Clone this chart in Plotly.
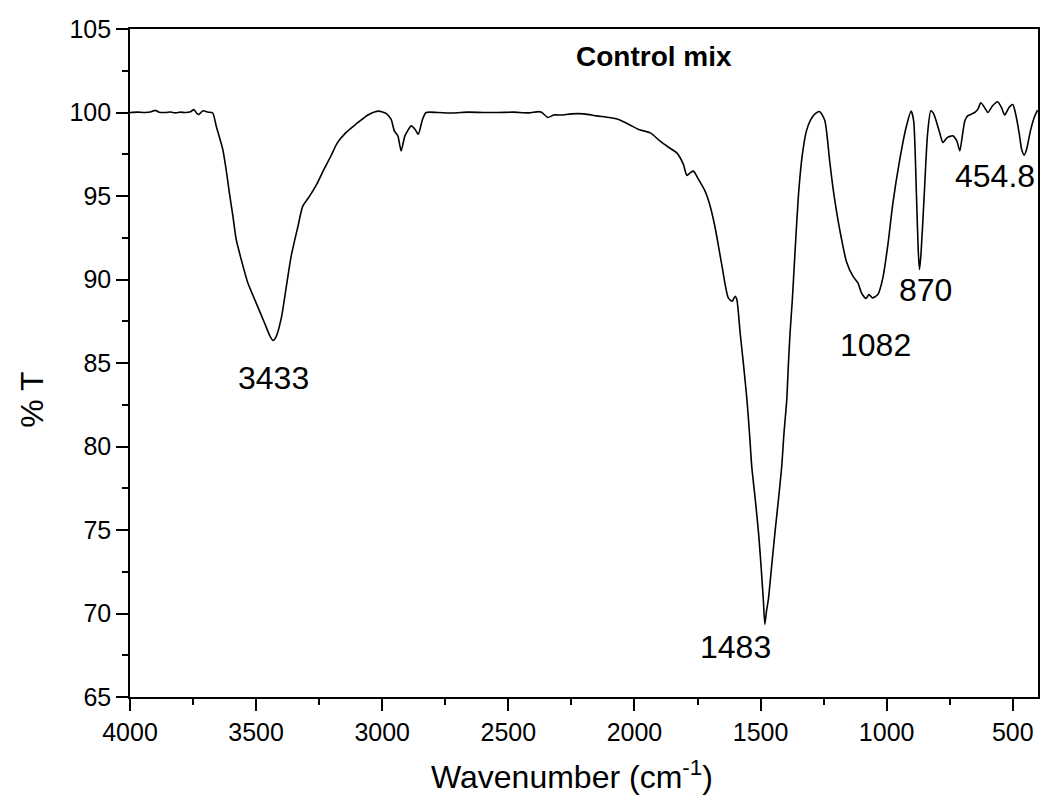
import plotly.graph_objects as go

# FTIR transmittance spectrum of the control mix
wavenumber = [
    4000, 3970, 3940, 3915, 3900, 3885, 3860, 3840, 3820, 3800, 3780, 3760,
    3747, 3735, 3727, 3711, 3690, 3672, 3658, 3632, 3619, 3606, 3592, 3579,
    3559, 3533, 3500, 3467, 3445, 3433, 3420, 3400, 3381, 3361, 3334, 3315,
    3288, 3260, 3231, 3204, 3178, 3145, 3106, 3053, 3014, 2985, 2965, 2952,
    2938, 2925, 2910, 2885, 2870, 2857, 2840, 2826, 2780, 2720, 2660, 2600,
    2540, 2480, 2420, 2380, 2367, 2343, 2320, 2290, 2250, 2200, 2150, 2100,
    2063, 2023, 1983, 1937, 1898, 1865, 1832, 1806, 1792, 1778, 1766, 1746,
    1720, 1700, 1680, 1654, 1628, 1612, 1601, 1594, 1581, 1567, 1554, 1544,
    1535, 1521, 1508, 1498, 1489, 1483, 1476, 1469, 1456, 1443, 1429, 1416,
    1407, 1396, 1390, 1383, 1374, 1362, 1350, 1335, 1318, 1300, 1282, 1265,
    1245, 1226, 1213, 1199, 1180, 1160, 1134, 1114, 1100, 1082, 1070, 1057,
    1035, 1015, 995, 976, 949, 923, 903, 893, 882, 875, 870, 864, 851, 838,
    825, 813, 790, 777, 760, 738, 722, 710, 700, 690, 679, 651, 638, 627,
    612, 599, 580, 560, 545, 532, 515, 500, 490, 475, 465, 454.8, 445, 430,
    415, 402,
]
transmittance = [
    100.00, 100.02, 100.00, 100.05, 100.13, 100.02, 100.00, 100.03, 99.98, 100.02, 100.00, 100.05,
    100.17, 99.95, 99.88, 100.10, 100.02, 99.97, 99.18, 97.78, 96.59, 95.19, 93.79, 92.40,
    91.20, 89.80, 88.60, 87.41, 86.61, 86.35, 86.60, 87.70, 89.50, 91.40, 93.19, 94.39,
    94.99, 95.69, 96.59, 97.38, 98.18, 98.78, 99.28, 99.88, 100.08, 99.95, 99.6, 98.9,
    98.6, 97.7, 98.6, 99.2, 99.0, 98.7, 99.6, 100.0, 100.0, 99.97, 100.02, 100.0,
    100.0, 100.02, 99.98, 100.05, 100.0, 99.7, 99.85, 99.85, 99.92, 99.92, 99.8, 99.7,
    99.58, 99.3, 98.98, 98.78, 98.28, 97.92, 97.58, 96.89, 96.23, 96.4, 96.49, 95.99,
    95.29, 94.4, 93.1, 90.9, 88.9, 88.7, 89.0, 88.8, 86.81, 84.81, 82.81, 80.82,
    78.82, 76.83, 74.83, 72.83, 70.84, 69.35, 70.2, 70.84, 72.83, 74.83, 76.83, 78.82,
    80.82, 82.81, 84.81, 86.81, 88.8, 92.0, 95.0, 97.4, 98.9, 99.6, 99.95, 100.05,
    99.5, 97.1, 95.5, 94.1, 92.5, 91.1, 90.2, 89.8, 89.2, 88.86, 89.1, 88.9,
    89.1, 90.1, 92.1, 94.5, 97.1, 99.1, 100.08, 99.5, 95.1, 91.8, 90.6, 91.5, 95.1, 98.7,
    100.1, 99.9, 98.8, 98.2, 98.5, 98.6, 98.3, 97.7, 98.6, 99.5, 99.8, 100.0, 100.2, 100.58,
    100.3, 100.0, 100.4, 100.64, 100.3, 99.85, 100.3, 100.48, 100.0, 98.8, 97.8, 97.45, 97.8, 98.9,
    99.7, 100.14,
]

# Peak labels and where their text sits
peak_labels = ["3433", "1483", "1082", "870", "454.8"]
label_x = [3433, 1600, 1046, 845, 572]
label_y = [84.1, 68.0, 86.1, 89.4, 96.2]

x_ticks = [4000, 3500, 3000, 2500, 2000, 1500, 1000, 500]
y_ticks = [65, 70, 75, 80, 85, 90, 95, 100, 105]

FONT = "Arial, Liberation Sans, sans-serif"

fig = go.Figure()
fig.add_trace(go.Scatter(
    x=wavenumber, y=transmittance, mode="lines",
    line=dict(color="black", width=1.6, shape="spline", smoothing=0.6),
    showlegend=False, hoverinfo="x+y",
))

for txt, lx, ly in zip(peak_labels, label_x, label_y):
    fig.add_annotation(x=lx, y=ly, text=txt, showarrow=False,
                       xanchor="center", yanchor="middle",
                       font=dict(family=FONT, size=32, color="black"))

fig.add_annotation(x=1924, y=103.35, text="<b>Control mix</b>", showarrow=False,
                   xanchor="center", yanchor="middle",
                   font=dict(family=FONT, size=28, color="black"))

# Axis titles
fig.add_annotation(xref="paper", yref="paper", x=0.487, y=-0.117,
                   text="Wavenumber (cm<sup>-1</sup>)", showarrow=False,
                   xanchor="center", yanchor="middle",
                   font=dict(family=FONT, size=32, color="black"))
fig.add_annotation(xref="paper", yref="paper", x=-0.108, y=0.445,
                   text="% T", showarrow=False, textangle=-90,
                   xanchor="center", yanchor="middle",
                   font=dict(family=FONT, size=32, color="black"))

axis_common = dict(
    showline=True, linecolor="black", linewidth=1.6, mirror=True,
    ticks="outside", ticklen=12, tickwidth=1.6, tickcolor="black",
    showgrid=False, zeroline=False,
    tickfont=dict(family=FONT, size=25, color="black"),
)

fig.update_xaxes(range=[4000, 400], tickvals=x_ticks,
                 ticktext=[str(v) for v in x_ticks],
                 minor=dict(ticks="outside", ticklen=6, tickwidth=1.6,
                            tickcolor="black", dtick=250, tick0=0),
                 **axis_common)
fig.update_yaxes(range=[65, 105], tickvals=y_ticks,
                 ticktext=[str(v) for v in y_ticks],
                 minor=dict(ticks="outside", ticklen=6, tickwidth=1.6,
                            tickcolor="black", dtick=2.5, tick0=0),
                 **axis_common)

fig.update_layout(
    width=1045, height=805,
    margin=dict(l=130, r=5, t=29, b=108),
    paper_bgcolor="white", plot_bgcolor="white",
    font=dict(family=FONT, color="black"),
)

fig.write_html("out.html")
